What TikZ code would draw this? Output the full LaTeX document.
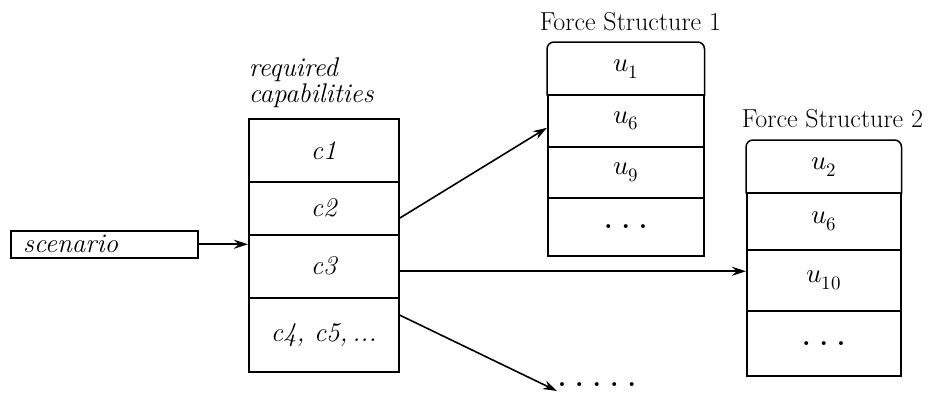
\documentclass[tikz,border=0pt]{standalone}
\usepackage{fontspec}
\usepackage{unicode-math}
\usetikzlibrary{arrows.meta,calc}
\begin{document}
\begin{tikzpicture}[x=1pt,y=-1pt,
  line width=1.5pt,
  every node/.style={font=\fontsize{27}{30}\selectfont},
  cell/.style={draw, rectangle, inner sep=0pt, anchor=north west},
  topcell/.style={rectangle, inner sep=0pt, anchor=north west},
  arr/.style={line width=1.6pt, -{Stealth[length=14pt,width=9pt]}},
  title/.style={anchor=south west, inner sep=0pt, align=left},
  fstitle/.style={anchor=base west, inner sep=0pt, font=\fontsize{26}{30}\selectfont}]
\useasboundingbox (0,0) rectangle (933,407);

% scenario input
\node[cell, minimum width=187pt, minimum height=27pt, text width=180pt, align=left]
  (scen) at (10,230) {\itshape\ scenario};

% required capabilities column
\node[title] (captitle) at (248,108) {\itshape required\\[-4pt]\itshape capabilities};
\node[cell, minimum width=150pt, minimum height=63pt] (c1) at (248,118) {\itshape c1};
\node[cell, minimum width=150pt, minimum height=53pt] (c2) at (248,181) {\itshape c2};
\node[cell, minimum width=150pt, minimum height=63pt] (c3) at (248,234) {\itshape c3};
\node[cell, minimum width=150pt, minimum height=74pt] (c4) at (248,297) {\itshape c4, c5,\,...};

% force structure 1
\node[fstitle] (fs1title) at (539,30) {Force Structure 1};
\node[topcell, minimum width=156pt, minimum height=52pt] (fa1) at (547,42) {$u_1$};
\node[cell, minimum width=156pt, minimum height=52pt] (fa2) at (547,94) {$u_6$};
\node[cell, minimum width=156pt, minimum height=51pt] (fa3) at (547,146) {$u_9$};
\node[cell, minimum width=156pt, minimum height=58pt] (fa4) at (547,197) {\textbf{.\,\,.\,\,.}};
\draw[rounded corners=7pt] (fa1.south west) -- (fa1.north west) -- (fa1.north east) -- (fa1.south east);

% force structure 2
\node[fstitle] (fs2title) at (741,127) {Force Structure 2};
\node[topcell, minimum width=154pt, minimum height=52pt] (fb1) at (746,140) {$u_2$};
\node[cell, minimum width=154pt, minimum height=57pt] (fb2) at (746,192) {$u_6$};
\node[cell, minimum width=154pt, minimum height=61pt] (fb3) at (746,249) {$u_{10}$};
\node[cell, minimum width=154pt, minimum height=65pt] (fb4) at (746,310) {\textbf{.\,\,.\,\,.}};
\draw[rounded corners=7pt] (fb1.south west) -- (fb1.north west) -- (fb1.north east) -- (fb1.south east);

% further force structures
\node[inner sep=0pt, anchor=west] (more) at (557,385) {\textbf{.\,\,.\,\,.\,\,.\,\,.}};

% connectors
\draw[arr] (scen.east) -- (scen.east -| c3.west);
\draw[arr] ([yshift=-10pt]c2.east) -- ([yshift=-7pt]fa2.west);
\draw[arr] ([yshift=-5pt]c3.east) -- ([yshift=-5pt]c3.east -| fb3.west);
\draw[arr] ([yshift=-18pt]c4.north east) -- ([yshift=-6pt]more.west);
\end{tikzpicture}
\end{document}
